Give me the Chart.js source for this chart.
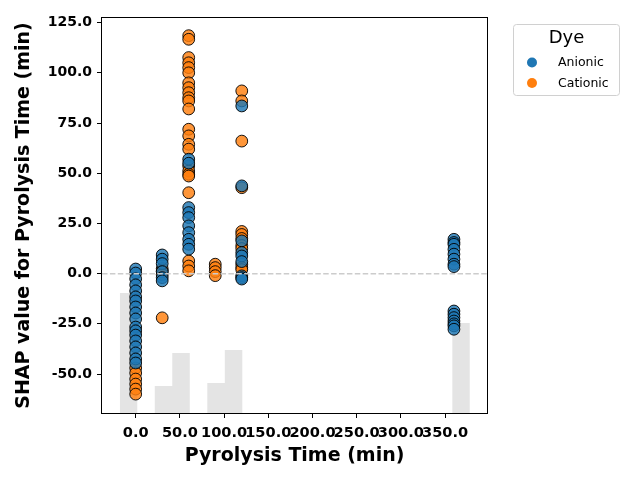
<!DOCTYPE html>
<html>
<head>
<meta charset="utf-8">
<script src="https://cdn.jsdelivr.net/npm/chart.js@4.4.1/dist/chart.umd.min.js"></script>
<style>
  html, body { margin: 0; padding: 0; background: #ffffff; }
  #wrap { width: 640px; height: 480px; position: relative; }
</style>
</head>
<body>
<div id="wrap"><canvas id="c" width="640" height="480"></canvas></div>
<script>
// ---- data ----
const pyrolysisTimes = [0, 30, 60, 90, 120, 360];
const seriesNames = ["Anionic", "Cationic"];

// SHAP values per pyrolysis time (aligned with pyrolysisTimes)
const anionicShap = [
  [2.3, 0.3, -2.6, -5.6, -8.6, -11.6, -13.6, -16.6, -19.6, -22.6, -26.6, -28.5, -30.6, -33.5, -36.5, -39.5, -42.5, -44.5],
  [9.3, 7.2, 5.0, 1.0, -2.0, -3.6],
  [57.0, 55.0, 32.9, 30.4, 27.9, 23.8, 20.4, 17.1, 14.6, 12.2],
  [],
  [83.5, 43.7, 16.3, 10.5, 8.8, 6.0, -1.1, -2.0, -2.7],
  [17.1, 15.5, 14.6, 12.1, 9.7, 7.2, 4.7, 3.5, -18.6, -20.2, -21.9, -23.6, -25.0, -26.0, -27.7]
];
const cationicShap = [
  [-47.0, -49.5, -52.5, -55.0, -57.5, -60.0],
  [2.5, 1.3, -0.5, -22.0],
  [118.5, 116.7, 107.6, 105.0, 102.6, 100.0, 95.0, 92.6, 90.1, 87.6, 86.0, 82.0, 71.9, 68.6, 64.4, 62.0, 53.6, 51.1, 49.5, 48.6, 40.3, 6.3, 3.8, 1.4],
  [4.7, 3.0, 1.0, -1.0],
  [91.0, 86.0, 66.0, 42.8, 21.0, 19.5, 17.5, 14.0, 12.5, 4.7, 3.0, 2.0],
  []
];

// background histogram of pyrolysis time (20 bins)
const histStart = -18;
const histBinWidth = 19.8;
const histCounts = [40, 0, 9, 20, 0, 10, 21, 0, 0, 0, 0, 0, 0, 0, 0, 0, 0, 0, 0, 30];

const yTickStep = 25;
const xTickStep = 50;

// ---- build datasets ----
function toPoints(values) {
  const pts = [];
  values.forEach((list, i) => list.forEach(v => pts.push({ x: pyrolysisTimes[i], y: v })));
  return pts;
}
const histPoints = [{ x: histStart, y: 0 }];
histCounts.forEach((c, i) => histPoints.push({ x: histStart + i * histBinWidth, y: c }));
histPoints.push({ x: histStart + histCounts.length * histBinWidth, y: 0 });

const colAn = 'rgba(31,119,180,0.82)';
const colCa = 'rgba(255,127,14,0.82)';
const solidAn = '#1f77b4';
const solidCa = '#ff7f0e';

const FONT = "'DejaVu Sans', 'Liberation Sans', sans-serif";

const zeroLine = {
  id: 'zeroLine',
  afterDatasetsDraw(chart) {
    const { ctx, chartArea } = chart;
    const y = chart.scales.y.getPixelForValue(0);
    ctx.save();
    ctx.strokeStyle = '#cccccc';
    ctx.lineWidth = 1.5;
    ctx.setLineDash([5.5, 2.4]);
    ctx.beginPath();
    ctx.moveTo(chartArea.left, y);
    ctx.lineTo(chartArea.right, y);
    ctx.stroke();
    ctx.restore();
  }
};

const frameAndLegend = {
  id: 'frameAndLegend',
  afterDraw(chart) {
    const { ctx, chartArea } = chart;
    ctx.save();
    ctx.strokeStyle = '#000';
    ctx.lineWidth = 1;
    ctx.strokeRect(chartArea.left - 0.5, chartArea.top - 0.5,
                   chartArea.right - chartArea.left + 1, chartArea.bottom - chartArea.top + 1);

    // legend box
    const bx = 513.5, by = 24.5, bw = 106, bh = 71, r = 3;
    ctx.beginPath();
    ctx.moveTo(bx + r, by);
    ctx.lineTo(bx + bw - r, by);
    ctx.quadraticCurveTo(bx + bw, by, bx + bw, by + r);
    ctx.lineTo(bx + bw, by + bh - r);
    ctx.quadraticCurveTo(bx + bw, by + bh, bx + bw - r, by + bh);
    ctx.lineTo(bx + r, by + bh);
    ctx.quadraticCurveTo(bx, by + bh, bx, by + bh - r);
    ctx.lineTo(bx, by + r);
    ctx.quadraticCurveTo(bx, by, bx + r, by);
    ctx.closePath();
    ctx.fillStyle = 'rgba(255,255,255,0.8)';
    ctx.fill();
    ctx.strokeStyle = '#d0d0d0';
    ctx.stroke();

    ctx.fillStyle = '#000';
    ctx.textAlign = 'center';
    ctx.textBaseline = 'middle';
    ctx.font = '18px ' + FONT;
    ctx.fillText('Dye', 566.5, 38.5);

    const entries = [
      { label: chart.data.datasets[0].label, color: solidAn, y: 62.5 },
      { label: chart.data.datasets[1].label, color: solidCa, y: 83 }
    ];
    ctx.font = '12.5px ' + FONT;
    ctx.textAlign = 'left';
    entries.forEach(e => {
      ctx.beginPath();
      ctx.arc(532, e.y, 5, 0, Math.PI * 2);
      ctx.fillStyle = e.color;
      ctx.fill();
      ctx.fillStyle = '#000';
      ctx.fillText(e.label, 558, e.y + 0.5);
    });
    ctx.restore();
  }
};

new Chart(document.getElementById('c'), {
  type: 'scatter',
  data: {
    datasets: [
      {
        label: seriesNames[0],
        data: toPoints(anionicShap),
        backgroundColor: colAn,
        borderColor: 'rgba(0,0,0,0.9)',
        borderWidth: 1,
        pointRadius: 5.9,
        pointHoverRadius: 5.9
      },
      {
        label: seriesNames[1],
        data: toPoints(cationicShap),
        backgroundColor: colCa,
        borderColor: 'rgba(0,0,0,0.9)',
        borderWidth: 1,
        pointRadius: 5.9,
        pointHoverRadius: 5.9
      },
      {
        type: 'line',
        label: 'hist',
        data: histPoints,
        yAxisID: 'yHist',
        showLine: true,
        stepped: 'before',
        fill: 'origin',
        backgroundColor: '#e4e4e4',
        borderColor: 'rgba(0,0,0,0)',
        borderWidth: 0,
        pointRadius: 0
      }
    ]
  },
  options: {
    responsive: false,
    animation: false,
    events: [],
    layout: { padding: { left: 0, top: 18, right: 153, bottom: 0 } },
    plugins: {
      legend: { display: false },
      tooltip: { enabled: false }
    },
    scales: {
      x: {
        type: 'linear',
        min: -38.1,
        max: 397.4,
        afterFit: (s) => { s.height = 67; },
        border: { display: false },
        grid: { display: true, drawOnChartArea: false, drawTicks: true, tickLength: 5, color: '#000', tickWidth: 1 },
        ticks: {
          stepSize: xTickStep,
          includeBounds: false,
          autoSkip: false,
          maxRotation: 0,
          minRotation: 0,
          padding: 6,
          color: '#000',
          font: { family: FONT, size: 14.6, weight: 'bold' },
          callback: (v) => Number(v).toFixed(1)
        },
        title: {
          display: true,
          text: 'Pyrolysis Time (min)',
          color: '#000',
          font: { family: FONT, size: 19, weight: 'bold' },
          padding: { top: 0, bottom: 13 }
        }
      },
      y: {
        type: 'linear',
        min: -69.4,
        max: 127.3,
        afterFit: (s) => { s.width = 102; },
        border: { display: false },
        grid: { display: true, drawOnChartArea: false, drawTicks: true, tickLength: 5, color: '#000', tickWidth: 1 },
        ticks: {
          stepSize: yTickStep,
          includeBounds: false,
          padding: 5,
          color: '#000',
          font: { family: FONT, size: 14, weight: 'bold' },
          callback: (v) => Number(v).toFixed(1)
        },
        title: {
          display: true,
          text: 'SHAP value for Pyrolysis Time (min)',
          color: '#000',
          font: { family: FONT, size: 19, weight: 'bold' },
          padding: { top: 13, bottom: 0 }
        }
      },
      yHist: {
        type: 'linear',
        display: false,
        min: 0,
        max: 131.7
      }
    }
  },
  plugins: [zeroLine, frameAndLegend]
});
</script>
</body>
</html>
